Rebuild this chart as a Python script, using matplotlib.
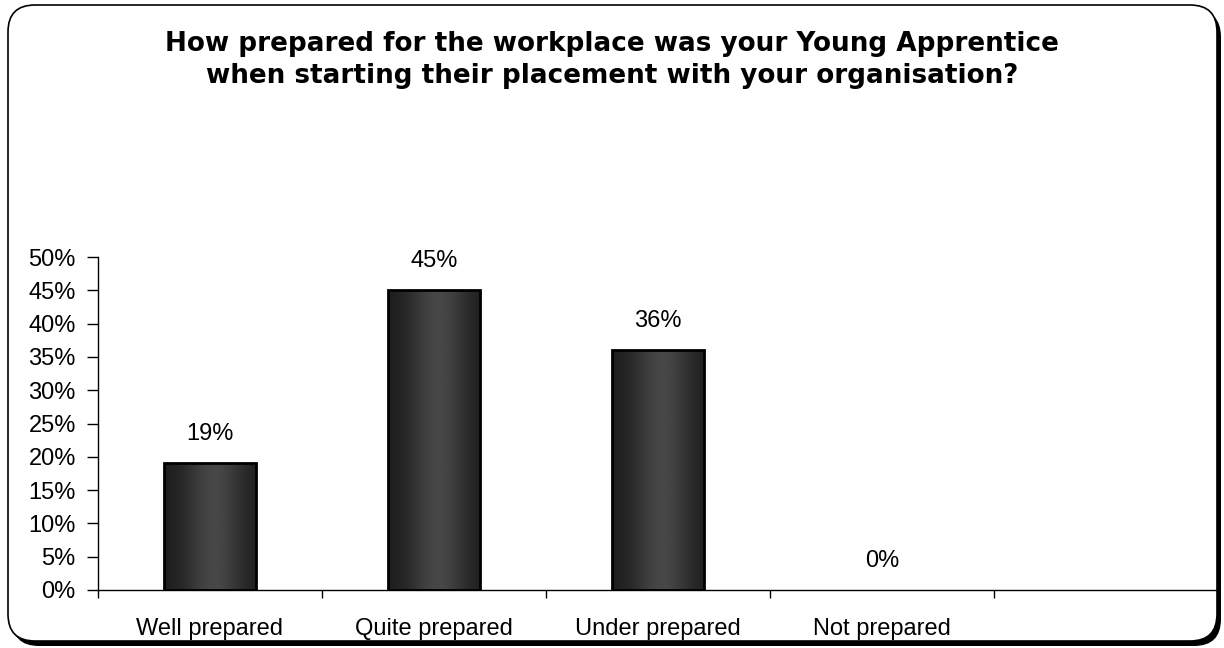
import numpy as np
import matplotlib
matplotlib.use("Agg")
import matplotlib.pyplot as plt
from matplotlib.patches import FancyBboxPatch
from matplotlib.ticker import FixedLocator, FuncFormatter

categories = ["Well prepared", "Quite prepared", "Under prepared", "Not prepared"]
values = [19, 45, 36, 0]
n_slots = 5
y_ticks = [0, 5, 10, 15, 20, 25, 30, 35, 40, 45, 50]
title = ("How prepared for the workplace was your Young Apprentice\n"
         "when starting their placement with your organisation?")

W, H = 1224, 648
fig = plt.figure(figsize=(W / 100, H / 100), dpi=100)

# rounded frame with a dark drop shadow
shadow = FancyBboxPatch((12 / W, 2 / H), 1209 / W, 636 / H,
                        boxstyle="round,pad=0,rounding_size=0.022",
                        transform=fig.transFigure, facecolor="black",
                        edgecolor="black", lw=0, mutation_aspect=W / H,
                        zorder=-3)
frame = FancyBboxPatch((8 / W, 7 / H), 1209 / W, 636 / H,
                       boxstyle="round,pad=0,rounding_size=0.022",
                       transform=fig.transFigure, facecolor="white",
                       edgecolor="black", lw=1.2, mutation_aspect=W / H,
                       zorder=-2)
fig.patches.extend([shadow, frame])

ax = fig.add_axes([98 / W, 58 / H, 1120 / W, 333 / H])
ax.set_zorder(2)
ax.set_facecolor("none")

x = np.arange(len(categories)) + 0.5
bars = ax.bar(x, values, width=0.41, facecolor="none", edgecolor="black",
              linewidth=2, zorder=3)

# horizontal shading across each bar
prof = np.linspace(0, 1, 200)
shade = 0.11 + 0.17 * np.exp(-((prof - 0.55) / 0.32) ** 2)
grad = np.tile(shade, (2, 1))
for b in bars:
    if b.get_height() <= 0:
        b.set_linewidth(0)
        continue
    ax.imshow(grad, cmap="gray", vmin=0, vmax=1, aspect="auto",
              extent=(b.get_x(), b.get_x() + b.get_width(), 0, b.get_height()),
              zorder=2, interpolation="bilinear")

for xi, v in zip(x, values):
    ax.annotate(f"{v}%", (xi, v), xytext=(0, 13), textcoords="offset points",
                ha="center", va="bottom", fontsize=17, family="Liberation Sans")

ax.set_xlim(0, n_slots)
ax.set_ylim(0, 50)
ax.yaxis.set_major_locator(FixedLocator(y_ticks))
ax.yaxis.set_major_formatter(FuncFormatter(lambda v, p: f"{v:.0f}%"))
ax.set_xticks(x)
ax.set_xticklabels(categories)
ax.set_xticks(np.arange(n_slots + 1), minor=True)
ax.tick_params(axis="x", which="major", length=0, pad=20)
ax.tick_params(axis="x", which="minor", length=6, direction="out", width=1)
ax.tick_params(axis="y", length=8, width=1, pad=8)
for lab in ax.get_xticklabels() + ax.get_yticklabels():
    lab.set_fontsize(17)
    lab.set_family("Liberation Sans")

for s in ["top", "right"]:
    ax.spines[s].set_visible(False)
for s in ["left", "bottom"]:
    ax.spines[s].set_linewidth(1)

fig.text(0.5, 1 - 60 / H, title, ha="center", va="center", fontsize=18.9,
         fontweight="bold", family="DejaVu Sans", linespacing=1.33)

fig.savefig("out.png", dpi=100)
